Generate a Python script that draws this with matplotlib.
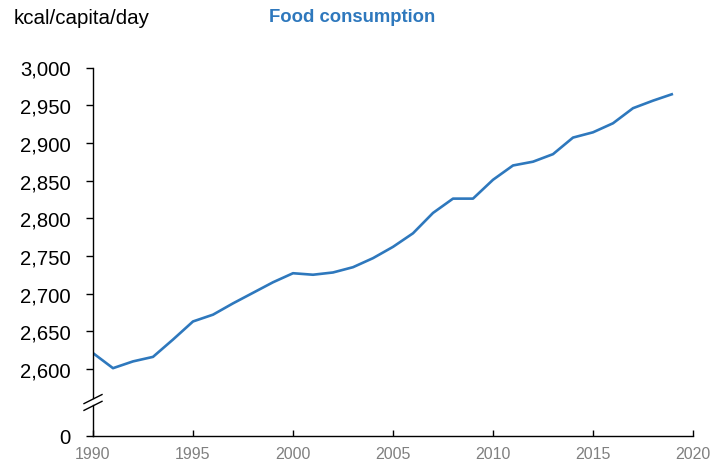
import matplotlib
matplotlib.use("Agg")
import matplotlib.pyplot as plt
from matplotlib.lines import Line2D

plt.rcParams['font.family'] = ['Liberation Sans', 'DejaVu Sans']

years = list(range(1990, 2020))
kcal = [2621, 2601, 2610, 2616, 2639, 2663, 2672, 2687, 2701, 2715,
        2727, 2725, 2728, 2735, 2747, 2762, 2780, 2807, 2826, 2826,
        2851, 2870, 2875, 2885, 2907, 2914, 2926, 2946, 2956, 2965]
y_ticks = [2600, 2650, 2700, 2750, 2800, 2850, 2900, 2950, 3000]
x_ticks = [1990, 1995, 2000, 2005, 2010, 2015, 2020]

ZERO_POS = 2511  # where "0" sits on the broken axis
BLUE = '#2E78BD'

fig = plt.figure(figsize=(7.28, 4.64), dpi=100)
ax = fig.add_axes([93/728, 27/464, 600/728, (437-68.5)/464])

ax.plot(years, kcal, color=BLUE, lw=1.9, solid_capstyle='butt')

ax.set_xlim(1990, 2020)
ax.set_ylim(ZERO_POS, 3000)

ax.set_yticks([ZERO_POS] + y_ticks)
ax.set_yticklabels(['0'] + [f'{v:,}' for v in y_ticks])
ax.set_xticks(x_ticks)
ax.set_xticklabels([str(v) for v in x_ticks])

for s in ['top', 'right']:
    ax.spines[s].set_visible(False)
ax.spines['left'].set_visible(False)
ax.spines['bottom'].set_linewidth(1.0)

ax.tick_params(axis='y', direction='out', length=5, width=1.0, labelsize=14.6,
               colors='black', pad=11)
ax.tick_params(axis='x', direction='in', length=4, width=1.0, labelsize=11.5,
               labelcolor='#808080', pad=7)

# left spine drawn in two pieces with a break
tr = ax.get_yaxis_transform()
ax.add_line(Line2D([0, 0], [2561, 3000], transform=tr, color='black', lw=1.0, clip_on=False))
ax.add_line(Line2D([0, 0], [ZERO_POS, 2552], transform=tr, color='black', lw=1.0, clip_on=False))
# slanted break marks
dx = 9/600
ax.add_line(Line2D([-dx, dx], [2554, 2566], transform=tr, color='black', lw=1.0, clip_on=False))
ax.add_line(Line2D([-dx, dx], [2545, 2557], transform=tr, color='black', lw=1.0, clip_on=False))

fig.text(14/728, 1 - 18/464, 'kcal/capita/day', fontsize=14.8, ha='left', va='center',
         color='black')
fig.text(352/728, 1 - 18/464, 'Food consumption', fontsize=13.3, ha='center', va='center',
         color=BLUE, fontweight='bold')

fig.savefig('out.png', dpi=100)
